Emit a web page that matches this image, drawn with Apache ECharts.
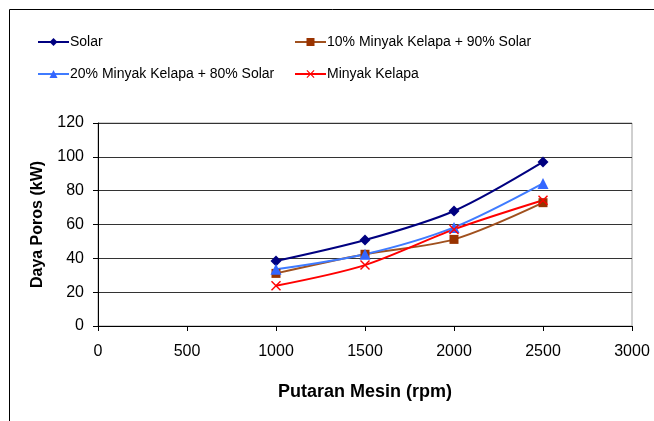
<!DOCTYPE html>
<html>
<head>
<meta charset="utf-8">
<script src="https://cdn.jsdelivr.net/npm/echarts@6/dist/echarts.min.js"></script>
<style>
  html, body { margin: 0; padding: 0; background: #fff; }
  #main { width: 654px; height: 421px; }
</style>
</head>
<body>
<div id="main"></div>
<script>
// data
var putaran = [1000, 1500, 2000, 2500];
var solar = [38.4, 50.8, 68.0, 97.0];
var mk10 = [31.1, 42.4, 51.2, 72.9];
var mk20 = [33.5, 42.4, 58.3, 84.3];
var minyakKelapa = [23.8, 36.0, 57.1, 74.3];

var names = ['Solar', '10% Minyak Kelapa + 90% Solar', '20% Minyak Kelapa + 80% Solar', 'Minyak Kelapa'];

function pasang(ys) {
  return putaran.map(function (x, i) { return [x, ys[i]]; });
}

var xSymbol = 'path://M0,1L1,0L5,4L9,0L10,1L6,5L10,9L9,10L5,6L1,10L0,9L4,5Z';

var chart = echarts.init(document.getElementById('main'));

var legendText = { fontSize: 14, color: '#000', padding: [0, 0, 0, -4] };

var option = {
  backgroundColor: '#fff',
  animation: false,
  textStyle: { fontFamily: 'Liberation Sans, Arial, sans-serif', color: '#000' },
  graphic: [{
    type: 'rect',
    shape: { x: 9.5, y: 9.5, width: 700, height: 500 },
    style: { fill: null, stroke: '#000', lineWidth: 1 },
    silent: true
  }],
  legend: [{
    data: [names[0], names[2]],
    orient: 'vertical',
    left: 32, top: 30,
    itemWidth: 31, itemHeight: 10, itemGap: 18,
    textStyle: legendText
  }, {
    data: [names[1], names[3]],
    orient: 'vertical',
    left: 289, top: 30,
    itemWidth: 31, itemHeight: 10, itemGap: 18,
    textStyle: legendText
  }],
  grid: {
    left: 98, right: 22, top: 123, bottom: 95,
    show: true, borderColor: '#a0a0a0', borderWidth: 1
  },
  xAxis: {
    type: 'value',
    min: 0, max: 3000, interval: 500,
    name: 'Putaran Mesin (rpm)',
    nameLocation: 'middle',
    nameGap: 57,
    nameTextStyle: { fontSize: 18, fontWeight: 'bold', color: '#000' },
    axisLine: { show: true, lineStyle: { color: '#000' } },
    axisTick: { show: true, length: 5, lineStyle: { color: '#000' } },
    axisLabel: { fontSize: 16, color: '#000', margin: 18, formatter: function (v) { return String(v); } },
    splitLine: { show: false }
  },
  yAxis: {
    type: 'value',
    min: 0, max: 120, interval: 20,
    name: 'Daya Poros (kW)',
    nameLocation: 'middle',
    nameGap: 52,
    nameTextStyle: { fontSize: 16, fontWeight: 'bold', color: '#000' },
    axisLine: { show: true, lineStyle: { color: '#000' } },
    axisTick: { show: true, length: 5, lineStyle: { color: '#000' } },
    axisLabel: { fontSize: 16, color: '#000', margin: 14 },
    splitLine: { show: true, lineStyle: { color: '#333', width: 1 } }
  },
  series: [{
    name: names[0], type: 'line', smooth: 0.3,
    data: pasang(solar),
    symbol: 'diamond', symbolSize: 11,
    lineStyle: { color: '#000080', width: 2 },
    itemStyle: { color: '#000080' }
  }, {
    name: names[1], type: 'line', smooth: 0.3,
    data: pasang(mk10),
    symbol: 'rect', symbolSize: 9,
    lineStyle: { color: '#a0501e', width: 2 },
    itemStyle: { color: '#993300' }
  }, {
    name: names[2], type: 'line', smooth: 0.3,
    data: pasang(mk20),
    symbol: 'triangle', symbolSize: 11,
    lineStyle: { color: '#3f7bff', width: 2 },
    itemStyle: { color: '#3366ff' }
  }, {
    name: names[3], type: 'line', smooth: 0.3,
    data: pasang(minyakKelapa),
    symbol: xSymbol, symbolSize: 10,
    lineStyle: { color: '#ff0000', width: 2 },
    itemStyle: { color: '#ff0000' }
  }]
};

chart.setOption(option);
</script>
</body>
</html>
